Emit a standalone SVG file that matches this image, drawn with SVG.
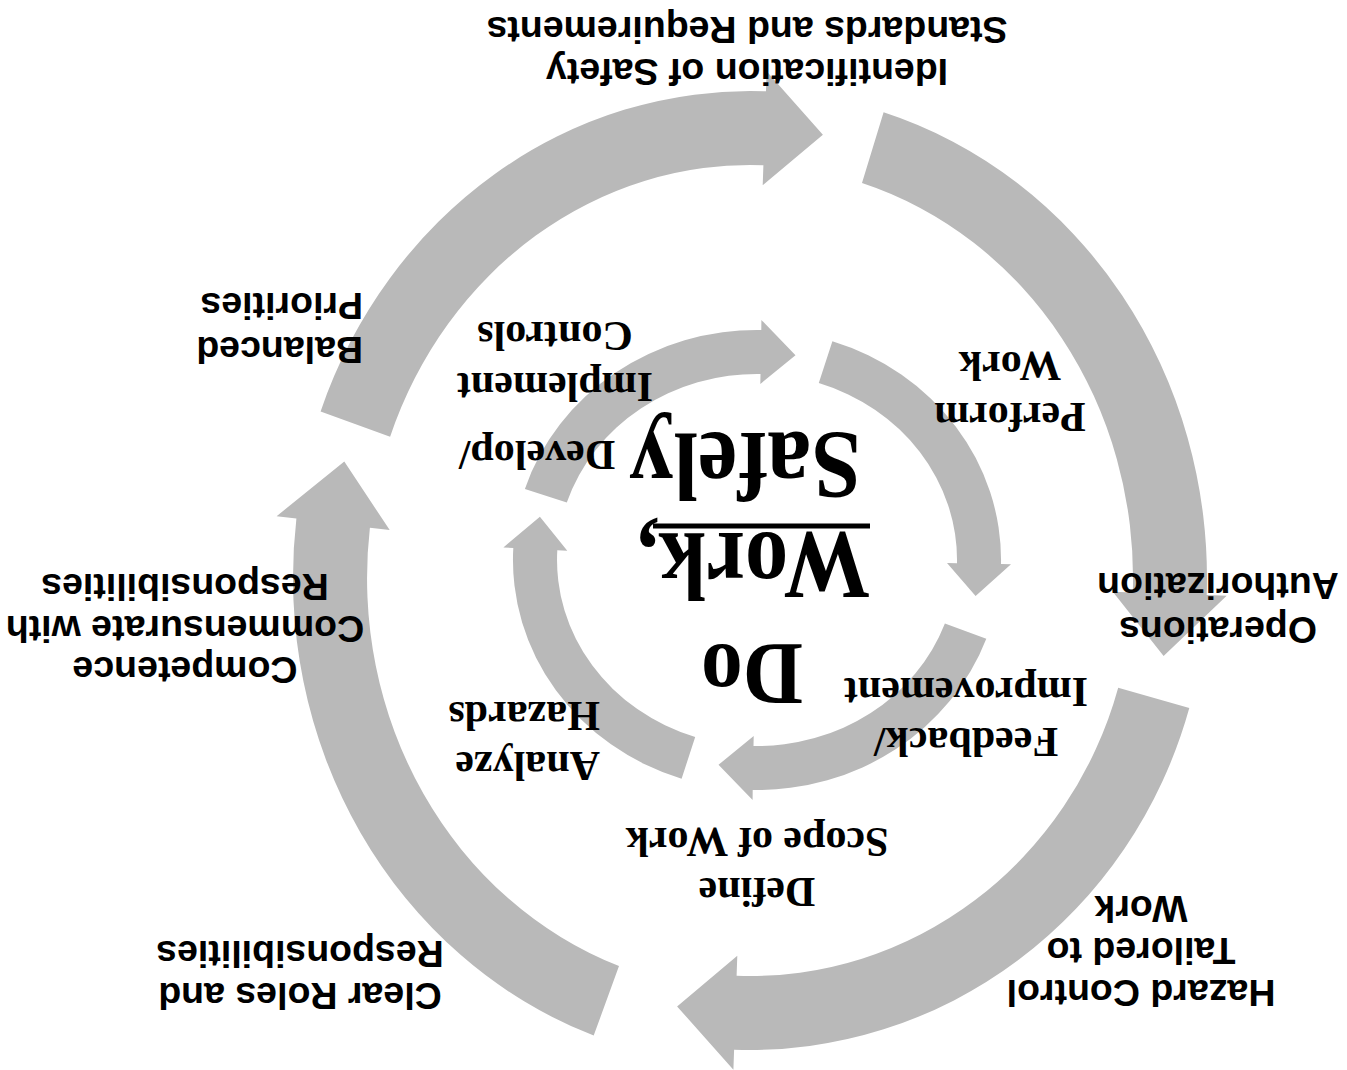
<svg xmlns="http://www.w3.org/2000/svg" width="1347" height="1070" viewBox="0 0 1347 1070">
<style>
.band{fill:#b9b9b9}
.sans{font-family:"Liberation Sans",Arial,sans-serif;font-weight:bold;font-size:37.5px;fill:#000}
.serif{font-family:"Liberation Serif","Times New Roman",serif;font-weight:bold;font-size:42px;fill:#000}
.big{font-family:"Liberation Serif","Times New Roman",serif;font-weight:bold;font-size:97px;fill:#000}
</style>
<rect width="1347" height="1070" fill="#fff"/>
<g id="connectors">
<path class="band" d="M 320.6 411.4 A 457 487 0 0 1 766.0 91.3 L 766.6 71.3 L 822.9 134.8 L 762.7 185.2 L 763.4 165.2 A 383 413 0 0 0 390.1 436.8 Z"/>
<path class="band" d="M 883.6 112.3 A 457 487 0 0 1 1206.7 595.0 L 1226.7 595.7 L 1163.6 656.1 L 1112.8 591.7 L 1132.8 592.4 A 383 413 0 0 0 862.0 183.0 Z"/>
<path class="band" d="M 1189.3 708.1 A 457 472 0 0 1 734.1 1049.7 L 733.4 1069.7 L 677.1 1006.4 L 737.3 955.8 L 736.6 975.8 A 383 398 0 0 0 1118.2 687.7 Z"/>
<path class="band" d="M 593.7 1035.6 A 457 487 0 0 1 296.4 518.6 L 276.6 516.2 L 344.3 461.5 L 389.7 530.1 L 369.9 527.7 A 383 413 0 0 0 619.0 966.1 Z"/>
<path class="band" d="M 524.9 488.9 A 244 230 0 0 1 761.3 330.0 L 761.4 320.0 L 795.5 355.2 L 760.3 384.0 L 760.5 374.0 A 200 186 0 0 0 566.8 502.5 Z"/>
<path class="band" d="M 832.4 341.2 A 244 230 0 0 1 1001.0 564.0 L 1011.0 564.2 L 975.6 596.1 L 947.0 563.1 L 957.0 563.3 A 200 186 0 0 0 818.8 383.1 Z"/>
<path class="band" d="M 986.3 638.7 A 244 230 0 0 1 752.7 790.0 L 752.6 800.0 L 718.5 764.8 L 753.7 736.0 L 753.5 746.0 A 200 186 0 0 0 944.9 623.6 Z"/>
<path class="band" d="M 681.6 778.8 A 244 230 0 0 1 513.3 548.0 L 503.4 547.4 L 539.9 516.8 L 567.3 550.8 L 557.3 550.3 A 200 186 0 0 0 695.2 736.9 Z"/>
</g>
<g id="identification" transform="translate(747 59) rotate(180)"><text class="sans" text-anchor="middle"><tspan x="0" y="0">Identification of Safety</tspan><tspan x="0" y="42">Standards and Requirements</tspan></text></g>
<g id="balanced" transform="translate(363 337) rotate(180)"><text class="sans"><tspan x="0" y="0">Balanced</tspan><tspan x="0" y="44">Priorities</tspan></text></g>
<g id="competence" transform="translate(185 657) rotate(180)"><text class="sans" text-anchor="middle"><tspan x="0" y="0">Competence</tspan><tspan x="0" y="41">Commensurate with</tspan><tspan x="0" y="83">Responsibilities</tspan></text></g>
<g id="clear-roles" transform="translate(300 983) rotate(180)"><text class="sans" text-anchor="middle"><tspan x="0" y="0">Clear Roles and</tspan><tspan x="0" y="42">Responsibilities</tspan></text></g>
<g id="hazard-control" transform="translate(1141 980) rotate(180)"><text class="sans" text-anchor="middle"><tspan x="0" y="0">Hazard Control</tspan><tspan x="0" y="42">Tailored to</tspan><tspan x="0" y="84">Work</tspan></text></g>
<g id="operations" transform="translate(1218 617) rotate(180)"><text class="sans" text-anchor="middle"><tspan x="0" y="0">Operations</tspan><tspan x="0" y="44">Authorization</tspan></text></g>
<g id="perform-work" transform="translate(1010 403) rotate(180)"><text class="serif" text-anchor="middle"><tspan x="0" y="0">Perform</tspan><tspan x="0" y="51">Work</tspan></text></g>
<g id="feedback" transform="translate(966 728) rotate(180)"><text class="serif" text-anchor="middle"><tspan x="0" y="0">Feedback/</tspan><tspan x="0" y="50">Improvement</tspan></text></g>
<g id="define-scope" transform="translate(757 878) rotate(180)"><text class="serif" text-anchor="middle"><tspan x="0" y="0">Define</tspan><tspan x="0" y="50">Scope of Work</tspan></text></g>
<g id="analyze" transform="translate(600 752) rotate(180)"><text class="serif"><tspan x="0" y="0">Analyze</tspan><tspan x="0" y="50">Hazards</tspan></text></g>
<g id="develop" transform="translate(555 373) rotate(180)"><text class="serif" text-anchor="middle"><tspan x="18" y="-68">Develop/</tspan><tspan x="0" y="0">Implement</tspan><tspan x="0" y="51">Controls</tspan></text></g>
<g id="title">
<text class="big" style="font-size:88px" text-anchor="middle" transform="translate(752 645) rotate(180)" textLength="102" lengthAdjust="spacingAndGlyphs">Do</text>
<text class="big" text-anchor="middle" transform="translate(753.5 533) rotate(180)" textLength="233" lengthAdjust="spacingAndGlyphs">Work,</text>
<line x1="653" y1="526" x2="870" y2="526" stroke="#000" stroke-width="5"/>
<text class="big" text-anchor="middle" transform="translate(745 433) rotate(180)" textLength="232" lengthAdjust="spacingAndGlyphs">Safely</text>
</g>
</svg>
